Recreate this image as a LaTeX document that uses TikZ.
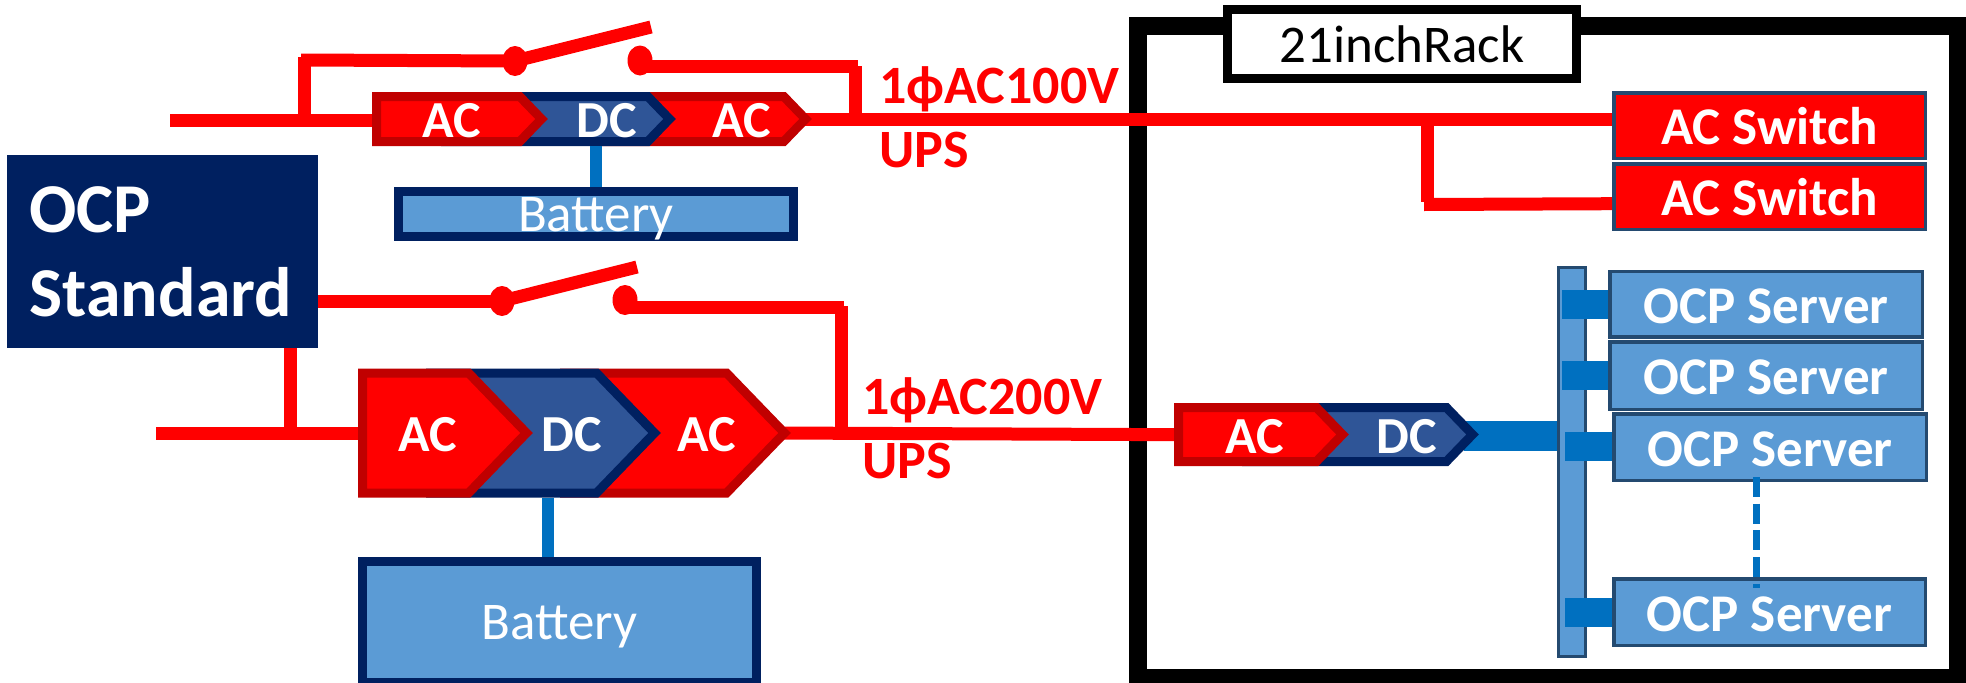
\documentclass[tikz,border=0pt]{standalone}
\usepackage{fontspec}
\setmainfont{Carlito}
\usepackage{xcolor}
\usetikzlibrary{positioning, shapes.geometric, shapes.symbols}

\definecolor{navy}{HTML}{002060}
\definecolor{dcfill}{HTML}{2F5597}
\definecolor{boxblue}{HTML}{5B9BD5}
\definecolor{busblue}{HTML}{0070C0}
\definecolor{edgeblue}{HTML}{244A70}
\definecolor{acedge}{HTML}{C00000}

\tikzset{
	redwire/.style={draw=red, line width=13pt},
	bluewire/.style={draw=busblue, line width=12.5pt},
	stubwire/.style={draw=busblue, line width=29pt},
	dotnode/.style={shape=ellipse, fill=red, inner sep=0pt, minimum width=25pt, minimum height=30pt},
	acconv/.style={signal, signal to=east, signal pointer angle=92, draw=acedge, fill=red, line width=9pt, inner sep=0pt, anchor=west},
	dcconv/.style={signal, signal to=east, signal pointer angle=92, draw=navy, fill=dcfill, line width=9pt, inner sep=0pt, anchor=west},
	convtext/.style={anchor=base, inner sep=0pt, text=white, font=\fontsize{52}{52}\selectfont\bfseries},
	battbox/.style={shape=rectangle, draw=navy, fill=boxblue, line width=9pt, inner sep=0pt, text=white, text depth=0pt, font=\fontsize{53}{53}\selectfont},
	switchbox/.style={shape=rectangle, draw=edgeblue, fill=red, line width=3.5pt, inner sep=0pt, text=white, text depth=0pt, font=\fontsize{53}{53}\selectfont\bfseries},
	serverbox/.style={shape=rectangle, draw=edgeblue, fill=boxblue, line width=3.5pt, inner sep=0pt, text=white, text height=38pt, text depth=0pt, font=\fontsize{53}{53}\selectfont\bfseries},
	voltlabel/.style={anchor=base west, align=left, inner sep=0pt, text=red, font=\fontsize{54}{64}\selectfont\bfseries},
}

\begin{document}
\begin{tikzpicture}[x=1pt, y=-1pt]
	\useasboundingbox (0,0) rectangle (1966,683);
	% Rack frame and its title:
	\node[shape=rectangle, draw=black, line width=18pt, minimum width=820pt, minimum height=652pt] (rack) at (1548, 352){};
	\node[shape=rectangle, draw=black, fill=white, line width=9pt, minimum width=349pt, minimum height=69pt, inner sep=0pt, text depth=0pt, font=\fontsize{53}{53}\selectfont] (rackname) at (1402, 44){21inchRack};
	% Free ends and corners of the wires:
	\coordinate (inA) at (170, 120.5);
	\coordinate (inB) at (156, 433);
	\coordinate (tapA) at (304.5, 120.5);
	\coordinate (tapAtop) at (304.5, 57);
	\coordinate (cornerA) at (301, 60);
	\coordinate (backA) at (858, 66);
	\coordinate (backAdown) at (855, 66);
	\coordinate (backAlow) at (855, 120);
	\coordinate (backB) at (844, 307);
	\coordinate (backBdown) at (841, 306);
	\coordinate (backBlow) at (841, 433);
	\coordinate (tapB) at (290, 433);
	\coordinate (branchtop) at (1427.5, 119.5);
	\coordinate (branchlow) at (1427.5, 202);
	\coordinate (branchcorner) at (1424, 204.5);
	\coordinate (bladeA) at (651, 27);
	\coordinate (bladeB) at (637, 267);
	\coordinate (tipA) at (795, 119.5);
	\coordinate (tipB) at (775, 433);
	\coordinate (tipdc) at (1464, 436);
	\coordinate (rackin) at (1180, 434.7);
	% Main boxes:
	\node[shape=rectangle, fill=navy, minimum width=311pt, minimum height=193pt, text width=266pt, align=left, inner sep=0pt, text=white, font=\fontsize{70}{84}\selectfont\bfseries] (ocp) at (162.5, 251.5){OCP\\Standard};
	\node[battbox, minimum width=395pt, minimum height=45pt] (battA) at (596, 214){Battery};
	\node[battbox, minimum width=394pt, minimum height=121pt] (battB) at (559.5, 622){Battery};
	\node[switchbox, minimum width=311.5pt, minimum height=65.5pt] (acswA) at (1769.5, 125.5){AC Switch};
	\node[switchbox, minimum width=311.5pt, minimum height=65.5pt] (acswB) at (1769.5, 196.5){AC Switch};
	\node[shape=rectangle, draw=edgeblue, fill=boxblue, line width=3pt, minimum width=27pt, minimum height=389pt] (bus) at (1572, 462){};
	% Switch contacts:
	\node[dotnode] (dotAl) at (515, 61){};
	\node[dotnode] (dotAr) at (640, 60.5){};
	\node[dotnode] (dotBl) at (502, 301){};
	\node[dotnode] (dotBr) at (625, 300){};
	% Wires:
	\draw[redwire] (cornerA) -- (dotAl.center);
	\draw[redwire] (tapAtop) -- (tapA);
	\draw[redwire] (dotAl.center) -- (bladeA);
	\draw[redwire] (dotAr.center |- backA) -- (backA);
	\draw[redwire] (backAdown) -- (backAlow);
	\draw[redwire] (ocp.east |- dotBl) -- (dotBl.center);
	\draw[redwire] (dotBl.center) -- (bladeB);
	\draw[redwire] (dotBr.center |- backB) -- (backB);
	\draw[redwire] (backBdown) -- (backBlow);
	\draw[redwire] (ocp.south -| tapB) -- (tapB);
	\draw[redwire] (branchtop) -- (branchlow);
	\draw[redwire] (tipA) -- (acswA.west |- branchtop);
	\draw[redwire] (tipB) -- (rackin);
	\draw[redwire] (branchcorner) -- (acswB.west |- 0, 203.7);
	\draw[stubwire, line width=30pt] (tipdc) -- (bus.west |- tipdc);
	% Converters, the last stage first:
	\node[acconv, minimum width=201pt, minimum height=45pt] (upsAacB) at (600, 119){};
	\node[dcconv, minimum width=224pt, minimum height=45pt] (upsAdc) at (441, 119){};
	\node[acconv, minimum width=165pt, minimum height=45pt] (upsAacA) at (372, 119){};
	\node[acconv, minimum width=220pt, minimum height=120pt] (upsBacB) at (560, 433){};
	\node[dcconv, minimum width=224pt, minimum height=120pt] (upsBdc) at (426, 433){};
	\node[acconv, minimum width=164pt, minimum height=120pt] (upsBacA) at (358, 433){};
	\node[dcconv, minimum width=226pt, minimum height=54pt] (rackdc) at (1242, 434.5){};
	\node[acconv, minimum width=164pt, minimum height=54pt] (rackac) at (1174, 434.5){};
	% Wires that end on a converter:
	\draw[redwire] (inA) -- (upsAacA.west |- inA);
	\draw[redwire] (inB) -- (upsBacA.west);
	\draw[bluewire] (upsAdc.south -| battA) -- (battA.north);
	\draw[bluewire] (upsBdc.south -| 548, 0) -- (battB.north -| 548, 0);
	% Servers and their stubs:
	\node[serverbox, minimum width=312.5pt, minimum height=65.5pt] (srvA) at (1766, 304){OCP Server};
	\node[serverbox, minimum width=312.5pt, minimum height=67.5pt] (srvB) at (1766, 375.5){OCP Server};
	\node[serverbox, minimum width=312.5pt, minimum height=66.5pt] (srvC) at (1770, 447){OCP Server};
	\node[serverbox, minimum width=311.5pt, minimum height=66.5pt] (srvD) at (1769.5, 612){OCP Server};
	\foreach \srv/\ystub/\xstub in {srvA/304.5/1562, srvB/375.5/1562, srvC/446.5/1565, srvD/612.5/1565}{
		\draw[stubwire] (\xstub, \ystub) -- (\srv.west |- 0, \ystub);
	}
	\draw[draw=busblue, line width=7pt, dash pattern=on 20pt off 6.7pt] (srvC.south -| 1756.5, 0) ++(0, -5) -- (1756.5, 588);
	% Converter texts and labels:
	\node[convtext] (tAacA) at (452, 137){AC};
	\node[convtext] (tAdc) at (607, 137){DC};
	\node[convtext] (tAacB) at (742, 137){AC};
	\node[convtext] (tBacA) at (428, 451){AC};
	\node[convtext] (tBdc) at (572, 451){DC};
	\node[convtext] (tBacB) at (707, 451){AC};
	\node[convtext] (tRac) at (1255, 453){AC};
	\node[convtext] (tRdc) at (1407, 453){DC};
	\node[voltlabel] (voltA) at (879, 167){1ϕAC100V\\UPS};
	\node[voltlabel] (voltB) at (862, 478){1ϕAC200V\\UPS};
\end{tikzpicture}
\end{document}
